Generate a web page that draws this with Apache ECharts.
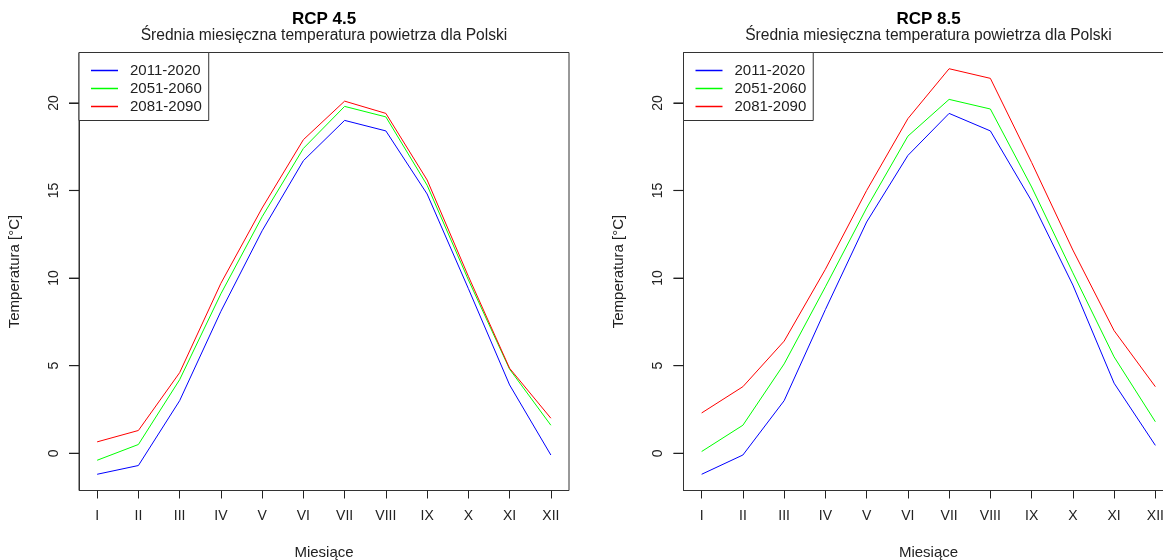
<!DOCTYPE html>
<html>
<head>
<meta charset="utf-8">
<script src="https://cdn.jsdelivr.net/npm/echarts@6/dist/echarts.min.js"></script>
<style>
html,body{margin:0;padding:0;background:#fff;}
#chart{width:1163px;height:560px;}
</style>
</head>
<body>
<div id="chart"></div>
<script>
// ---- data ----
const months = ['I','II','III','IV','V','VI','VII','VIII','IX','X','XI','XII'];
const monthPos = [1,2,3,4,5,6,7,8,9,10,11,12];
const yTicks = [0,5,10,15,20];
const periods = ['2011-2020','2051-2060','2081-2090'];
const panelTitles = ['RCP 4.5','RCP 8.5'];
const subtitle = 'Średnia miesięczna temperatura powietrza dla Polski';
const xTitle = 'Miesiące';
const yTitle = 'Temperatura [°C]';

const rcp45_2011 = [-1.2, -0.7, 3.0, 8.1, 12.7, 16.7, 19.0, 18.4, 14.8, 9.4, 3.9, -0.1];
const rcp45_2051 = [-0.4, 0.5, 4.2, 9.1, 13.5, 17.4, 19.8, 19.2, 15.3, 9.9, 4.8, 1.6];
const rcp45_2081 = [0.65, 1.3, 4.6, 9.7, 14.0, 17.9, 20.1, 19.4, 15.6, 10.1, 4.85, 2.0];

const rcp85_2011 = [-1.2, -0.1, 3.0, 8.2, 13.2, 17.0, 19.4, 18.4, 14.4, 9.6, 4.0, 0.45];
const rcp85_2051 = [0.1, 1.6, 5.1, 9.5, 14.0, 18.1, 20.2, 19.65, 15.2, 10.3, 5.5, 1.8];
const rcp85_2081 = [2.3, 3.8, 6.4, 10.5, 15.0, 19.1, 21.95, 21.4, 16.6, 11.6, 7.0, 3.8];

// ---- styling / layout ----
const colors = ['#0000FF', '#00FF00', '#FF0000'];
const FONT = 'Liberation Sans, Arial, sans-serif';
const panels = [
  {left: 79, series: [rcp45_2011, rcp45_2051, rcp45_2081]},
  {left: 683.5, series: [rcp85_2011, rcp85_2051, rcp85_2081]}
];
const gridTop = 52.5, gridW = 490, gridH = 438;
const yTickLen = 10;

const chart = echarts.init(document.getElementById('chart'));

const allVals = [].concat(rcp45_2011, rcp45_2051, rcp45_2081, rcp85_2011, rcp85_2051, rcp85_2081);
const dmin = Math.min.apply(null, allVals), dmax = Math.max.apply(null, allVals);
const pad = (dmax - dmin) * 0.04;
const yMin = dmin - pad, yMax = dmax + pad;
const xPad = (12 - 1) * 0.04;
const xMin = 1 - xPad, xMax = 12 + xPad;

const option = {
  animation: false,
  backgroundColor: '#fff',
  grid: panels.map(p => ({left: p.left, top: gridTop, width: gridW, height: gridH,
    show: true, borderColor: '#333', borderWidth: 1, backgroundColor: 'transparent',
    containLabel: false, outerBoundsMode: 'none'})),
  xAxis: panels.map((p, i) => ({
    type: 'value', gridIndex: i, min: xMin, max: xMax, position: 'bottom',
    splitLine: {show: false}, axisLine: {show: false, onZero: false},
    axisTick: {show: true, length: 8, customValues: monthPos, lineStyle: {color: '#222'}},
    axisLabel: {customValues: monthPos, formatter: v => months[Math.round(v) - 1], margin: 19,
      fontSize: 14, color: '#222', fontFamily: FONT},
    name: xTitle, nameLocation: 'middle', nameGap: 55,
    nameTextStyle: {fontSize: 15, color: '#222', fontFamily: FONT}
  })),
  yAxis: panels.map((p, i) => ({
    type: 'value', gridIndex: i, min: yMin, max: yMax, position: 'left',
    splitLine: {show: false}, axisLine: {show: true, onZero: false, lineStyle: {color: '#333', width: 1}},
    axisTick: {show: true, inside: false, length: yTickLen, customValues: yTicks, lineStyle: {color: '#222', width: 1}},
    axisLabel: {customValues: yTicks, rotate: 90, margin: 25, fontSize: 14, color: '#222', fontFamily: FONT,
      verticalAlign: 'middle', align: 'center',
      formatter: v => String(Math.round(v))},
    name: yTitle, nameLocation: 'middle', nameGap: 57, nameRotate: 90,
    nameTextStyle: {fontSize: 15, color: '#222', fontFamily: FONT}
  })),
  legend: panels.map(p => ({
    data: periods, orient: 'vertical', left: p.left, top: gridTop,
    borderColor: '#333', borderWidth: 1, backgroundColor: '#fff',
    padding: [9, 7, 5, 12], itemGap: 0, itemWidth: 27, itemHeight: 1.5, icon: 'rect',
    selectedMode: false, z: 10,
    textStyle: {fontSize: 15, color: '#222', fontFamily: FONT, lineHeight: 18, padding: [0, 0, 0, 7]}
  })),
  graphic: panels.map((p, i) => ([
    {type: 'text', x: p.left + gridW / 2, y: 19, style: {text: panelTitles[i], align: 'center', verticalAlign: 'middle',
      font: 'bold 17px ' + FONT, fill: '#000'}},
    {type: 'text', x: p.left + gridW / 2, y: 35.5, style: {text: subtitle, align: 'center', verticalAlign: 'middle',
      font: '15.6px ' + FONT, fill: '#222'}}
  ])).flat(),
  series: []
};

panels.forEach((p, gi) => {
  p.series.forEach((vals, si) => {
    option.series.push({
      type: 'line', name: periods[si], xAxisIndex: gi, yAxisIndex: gi,
      data: vals.map((v, k) => [monthPos[k], v]),
      showSymbol: false, symbol: 'none',
      lineStyle: {color: colors[si], width: 1}, itemStyle: {color: colors[si]},
      silent: true
    });
  });
  // y-axis tick marks placed through the axis scale, just outside the plot box
  option.series.push({
    type: 'scatter', name: 'yticks', xAxisIndex: gi, yAxisIndex: gi,
    data: yTicks.map(v => [xMin, v]),
    symbol: 'rect', symbolSize: [yTickLen, 1.2], symbolOffset: [-yTickLen / 2, 0],
    itemStyle: {color: '#222'}, clip: false, silent: true, z: 1
  });
});

chart.setOption(option);
</script>
</body>
</html>
